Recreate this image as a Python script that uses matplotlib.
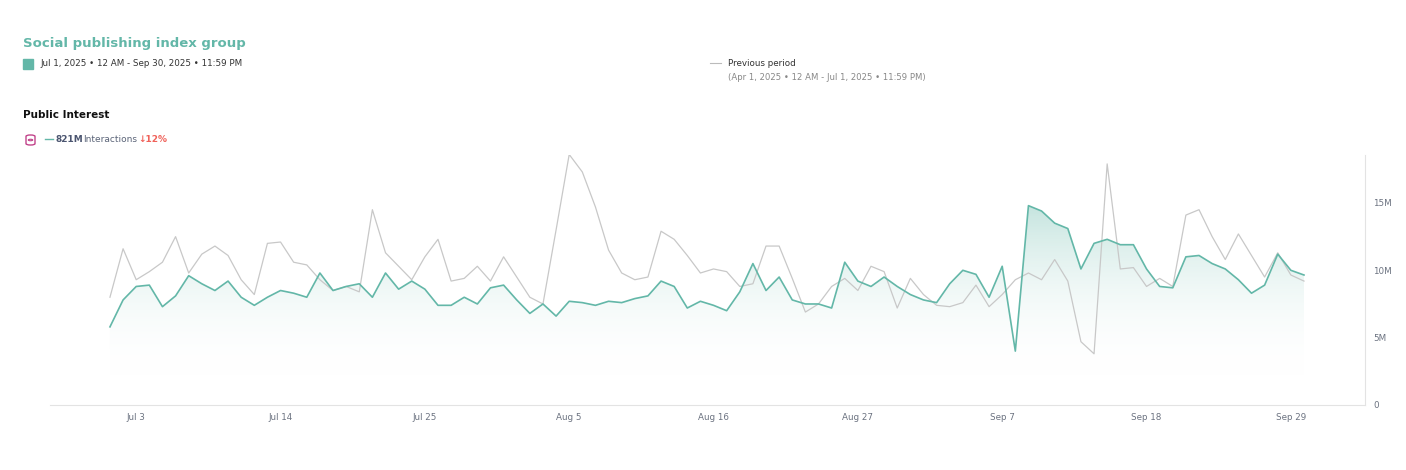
import numpy as np
import matplotlib
matplotlib.use("Agg")
import matplotlib.pyplot as plt
from matplotlib.patches import Rectangle, FancyBboxPatch, Circle

current = [5.8,7.8,8.8,8.9,7.3,8.1,9.6,9.0,8.5,9.2,8.0,7.4,8.0,8.5,8.3,8.0,9.8,8.5,8.8,9.0,
           8.0,9.8,8.6,9.2,8.6,7.4,7.4,8.0,7.5,8.7,8.9,7.8,6.8,7.5,6.6,7.7,7.6,7.4,7.7,7.6,
           7.9,8.1,9.2,8.8,7.2,7.7,7.4,7.0,8.4,10.5,8.5,9.5,7.8,7.5,7.5,7.2,10.6,9.2,8.8,9.5,
           8.8,8.2,7.8,7.6,9.0,10.0,9.7,8.0,10.3,4.0,14.8,14.4,13.5,13.1,10.1,12.0,12.3,11.9,11.9,10.1,
           8.8,8.7,11.0,11.1,10.5,10.1,9.3,8.3,8.9,11.2,10.0,9.65]
previous = [8.0,11.6,9.3,9.9,10.6,12.5,9.8,11.2,11.8,11.1,9.3,8.2,12.0,12.1,10.6,10.4,9.3,8.5,8.8,8.4,
            14.5,11.3,10.3,9.3,11.0,12.3,9.2,9.4,10.3,9.2,11.0,9.5,8.0,7.5,13.0,18.6,17.3,14.7,11.5,9.8,
            9.3,9.5,12.9,12.3,11.1,9.8,10.1,9.9,8.8,9.0,11.8,11.8,9.4,6.9,7.5,8.8,9.4,8.5,10.3,9.9,
            7.2,9.4,8.2,7.4,7.3,7.6,8.9,7.3,8.2,9.3,9.8,9.3,10.8,9.2,4.7,3.8,17.9,10.1,10.2,8.8,
            9.4,8.8,14.1,14.5,12.5,10.8,12.7,11.1,9.5,11.3,9.65,9.2]
tick_days = [2,13,24,35,46,57,68,79,90]
tick_labels = ["Jul 3","Jul 14","Jul 25","Aug 5","Aug 16","Aug 27","Sep 7","Sep 18","Sep 29"]
ytick_vals = [0,5,10,15]
ytick_labels = ["0","5M","10M","15M"]

W, H = 1406, 470
fig = plt.figure(figsize=(W/100, H/100), dpi=100)
teal = "#63b7a8"
ax = fig.add_axes([50/W, 1-405/H, (1365-50)/W, 250/H])
x = np.arange(len(current))
cur = np.array(current)
ax.set_xlim(-4.57, 95.65)
ax.set_ylim(0, 18.56)

cmap = matplotlib.colors.LinearSegmentedColormap.from_list("g", [(1,1,1,0), (0.39,0.72,0.66,0.35)])
vals = np.clip((np.linspace(0, 18.56, 256) - 2.0) / 12.5, 0, 1).reshape(-1, 1)
im = ax.imshow(vals, extent=[-4.57, 95.65, 0, 18.56], origin="lower", aspect="auto", cmap=cmap, vmin=0, vmax=1, zorder=1)
poly = ax.fill_between(x, 0, cur, color="none")
im.set_clip_path(poly.get_paths()[0], transform=ax.transData)

ax.plot(x, previous, color="#c8c8c8", lw=0.9, zorder=2)
ax.plot(x, cur, color=teal, lw=1.2, zorder=3)

for s in ["top", "left"]:
    ax.spines[s].set_visible(False)
ax.spines["bottom"].set_color("#e3e3e3")
ax.spines["right"].set_color("#e3e3e3")
ax.yaxis.tick_right()
ax.set_yticks(ytick_vals, ytick_labels)
ax.set_xticks(tick_days, tick_labels)
ax.tick_params(length=0, labelsize=6.3, labelcolor="#6b7280", pad=6)

def t(px, py, s, **kw):
    return fig.text(px/W, 1-py/H, s, va="center", **kw)

t(23, 43, "Social publishing index group", color=teal, fontsize=9.5, fontweight="bold")
fig.patches.append(Rectangle((23/W, 1-69/H), 10/W, 10/H, transform=fig.transFigure, color=teal))
t(40, 64, "Jul 1, 2025 • 12 AM - Sep 30, 2025 • 11:59 PM", color="#333333", fontsize=6.3)
fig.lines.append(plt.Line2D([710/W, 721/W], [1-63/H, 1-63/H], transform=fig.transFigure, color="#bbbbbb", lw=0.8))
t(728, 64, "Previous period", color="#333333", fontsize=6.3)
t(728, 78, "(Apr 1, 2025 • 12 AM - Jul 1, 2025 • 11:59 PM)", color="#888888", fontsize=6.1)
t(23, 115, "Public Interest", color="#111111", fontsize=7.5, fontweight="bold")
fig.patches.append(FancyBboxPatch((26/W, 1-145/H), 9/W, 10/H, boxstyle="round,pad=0,rounding_size=0.003",
                                  transform=fig.transFigure, fill=False, ec="#c2448b", lw=1))
fig.patches.append(Circle((30.5/W, 1-140/H), 2.2/W, transform=fig.transFigure, fill=False, ec="#c2448b", lw=0.8))
fig.lines.append(plt.Line2D([45/W, 53/W], [1-139/H, 1-139/H], transform=fig.transFigure, color=teal, lw=1))
t(56, 140, "821M", color="#4b5570", fontsize=6.5, fontweight="bold")
t(83, 140, "Interactions", color="#5b6478", fontsize=6.5)
t(138, 140, "↓12%", color="#f0625a", fontsize=6.5, fontweight="bold")

fig.savefig("out.png", dpi=100)
